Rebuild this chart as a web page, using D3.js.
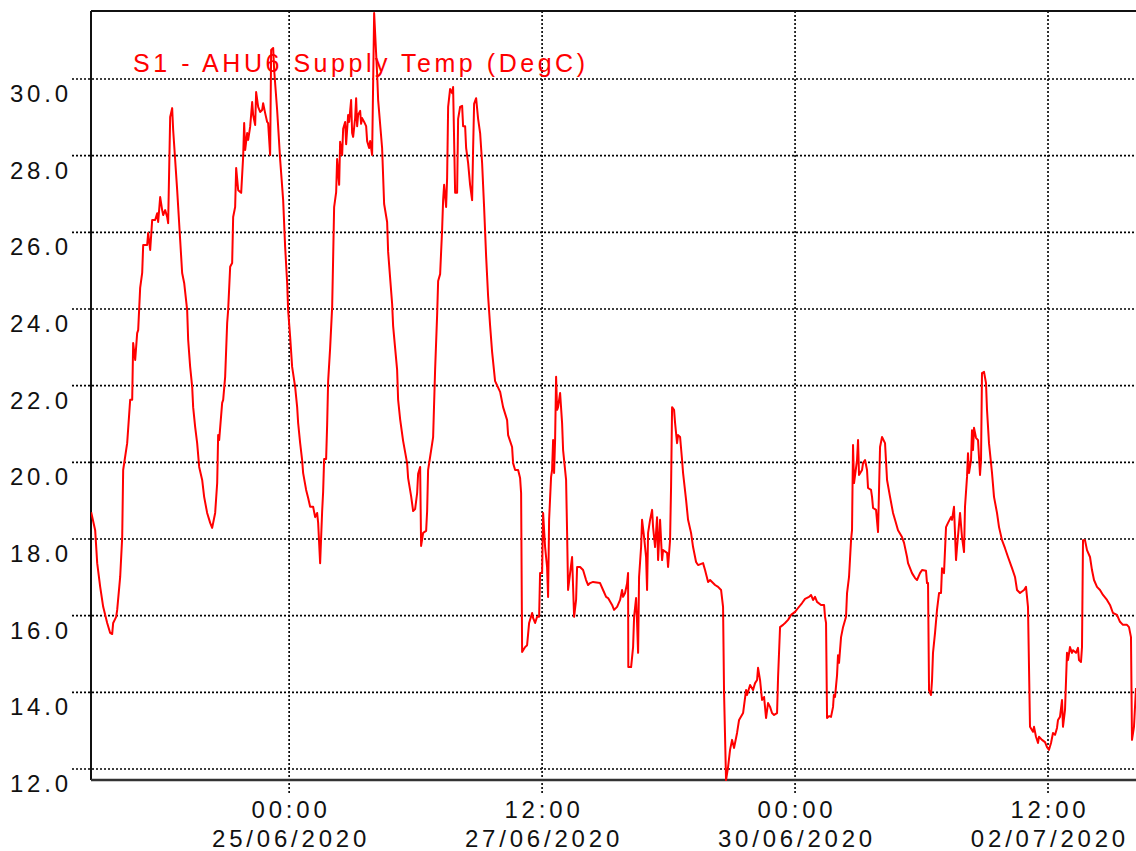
<!DOCTYPE html>
<html>
<head>
<meta charset="utf-8">
<script src="https://cdn.jsdelivr.net/npm/d3@7"></script>
<style>
body { margin: 0; background: #fff; }
text { font-family: "Liberation Sans", Arial, sans-serif; }
</style>
</head>
<body>
<svg id="chart" width="1136" height="851"></svg>
<script>
var seriesName = "S1 - AHU6 Supply Temp (DegC)";

// hours after 23/06/2020 00:00
var hours = [1.04,1.99,2.47,3.18,3.89,4.84,5.55,6.02,6.26,6.97,7.21,7.92,8.40,8.63,9.58,10.29,10.77,11.00,11.48,11.95,12.19,12.66,13.14,13.38,14.32,14.56,15.04,15.51,16.22,16.70,16.93,17.41,17.88,18.12,18.59,19.07,19.30,19.78,20.25,20.49,21.44,22.15,22.62,23.10,23.81,24.05,24.52,25.00,25.23,25.71,26.18,26.66,27.37,27.84,28.55,29.27,29.74,30.45,30.93,31.16,31.40,32.11,32.35,32.82,33.30,33.53,34.01,34.48,34.72,35.19,35.43,35.91,36.62,37.09,37.33,37.57,38.04,38.28,38.75,39.23,39.46,39.94,40.17,40.65,41.12,41.60,41.83,42.31,42.78,43.02,43.49,43.73,44.21,44.44,45.15,45.87,46.58,47.05,47.53,47.76,48.24,48.71,49.42,49.90,50.13,50.61,51.08,51.32,52.03,52.51,52.98,53.69,54.17,54.64,54.88,55.35,55.83,56.06,56.30,56.77,57.01,57.25,57.72,58.20,58.43,58.67,59.15,59.38,59.86,60.09,60.57,60.81,61.28,61.52,61.99,62.23,62.70,62.94,63.18,63.65,63.89,64.13,64.36,64.84,65.07,65.31,65.79,66.26,66.50,66.97,67.21,67.68,68.16,68.87,69.11,70.05,70.53,71.24,71.48,71.95,72.43,72.66,73.14,73.61,73.85,74.32,75.03,75.98,76.22,76.93,77.41,77.88,78.36,78.59,79.07,79.30,79.78,80.49,80.73,80.96,81.91,82.15,82.62,83.10,83.34,83.81,84.28,84.52,84.76,85.23,85.47,85.71,86.18,86.66,86.89,87.37,87.84,88.08,88.55,89.03,89.26,89.74,89.98,90.45,90.92,91.40,91.64,91.87,92.35,92.82,93.30,93.77,94.24,94.72,95.19,95.67,96.14,96.85,98.04,98.75,99.70,99.94,100.88,101.12,101.60,102.31,102.78,103.02,103.26,103.97,104.44,104.92,105.63,105.86,106.34,106.81,107.29,107.52,108.00,108.24,108.71,109.18,109.42,109.66,110.13,110.37,110.61,110.84,111.08,111.32,111.56,111.79,112.27,112.74,112.98,113.69,113.93,114.16,114.64,115.11,115.59,116.06,116.30,117.01,117.72,118.43,118.91,119.38,120.09,121.75,122.46,123.18,123.65,124.60,125.07,125.79,126.50,126.97,127.21,127.68,128.16,128.39,128.45,129.11,129.58,129.82,130.29,130.53,130.77,131.00,131.48,131.71,132.19,132.66,132.90,133.14,133.61,134.09,134.32,134.80,135.27,135.51,135.98,136.46,136.69,137.64,137.88,138.35,138.59,138.83,139.30,139.54,140.01,140.25,140.73,141.20,141.44,142.15,142.62,143.33,143.81,144.52,144.99,146.18,146.65,147.37,147.84,149.03,149.74,150.45,150.92,151.16,151.63,152.11,152.58,153.06,153.53,154.24,154.72,155.67,156.38,156.61,157.33,158.04,158.51,158.99,159.22,159.70,160.17,160.65,161.12,161.59,162.07,162.54,163.02,163.73,163.97,164.44,165.15,165.63,166.34,167.05,168.00,168.71,169.66,170.37,171.32,171.79,172.27,172.74,173.21,174.16,174.88,175.11,175.35,175.59,176.06,176.53,177.01,177.20,177.48,177.96,178.19,178.43,178.91,179.38,180.09,180.33,180.80,181.28,181.51,181.75,181.99,182.70,182.94,183.17,183.89,184.12,184.60,185.07,185.31,186.02,186.26,186.50,187.21,187.68,188.16,188.63,189.34,189.82,190.53,191.24,191.71,192.42,193.37,193.85,194.56,194.80,195.74,196.46,196.93,197.64,198.12,199.06,199.30,199.54,199.78,200.25,200.49,200.72,201.20,201.67,202.15,202.62,202.86,203.33,203.81,204.28,204.99,205.23,205.70,206.18,206.42,207.13,207.60,208.08,208.31,208.79,209.02,209.26,209.74,209.97,210.21,210.45,210.92,211.40,211.87,212.11,212.34,212.82,213.29,213.53,214.00,214.72,215.19,215.90,216.38,217.09,217.80,218.51,219.46,220.17,220.65,221.36,222.31,222.78,223.25,223.73,224.44,224.68,225.15,225.63,225.86,226.57,227.29,227.76,228.23,228.71,229.18,229.66,230.13,230.37,230.84,231.32,231.55,232.03,232.50,232.74,233.21,233.69,233.93,234.64,235.11,235.35,235.82,236.06,236.30,236.77,237.25,237.96,238.43,238.91,239.62,240.33,241.04,241.99,242.70,243.41,244.36,245.07,245.78,246.73,247.21,247.68,247.92,248.39,248.87];

var temps = [18.70,18.23,17.37,16.75,16.23,15.81,15.55,15.52,15.81,15.97,16.15,17.01,18.05,19.80,20.50,21.63,21.63,23.11,22.67,23.37,23.45,24.55,24.94,25.67,25.67,25.98,25.54,26.32,26.32,26.50,26.27,26.92,26.58,26.45,26.58,26.40,26.24,29.01,29.24,28.67,27.10,25.80,24.94,24.68,23.97,23.19,22.49,21.97,21.44,20.92,20.50,19.88,19.54,19.10,18.68,18.42,18.29,18.68,19.46,20.71,20.58,21.55,21.63,22.23,23.64,23.97,25.10,25.20,26.40,26.66,27.68,27.10,27.03,27.97,28.85,28.15,28.59,28.41,28.75,29.40,29.06,28.80,29.66,29.27,29.14,29.19,29.37,29.11,28.88,28.85,28.02,30.76,30.81,30.24,29.19,27.89,26.84,25.62,24.68,23.97,23.27,22.49,21.97,21.44,21.03,20.50,20.06,19.72,19.28,19.07,18.84,18.84,18.57,18.68,18.42,17.37,18.73,19.23,20.09,20.09,20.97,22.12,22.98,24.05,25.30,26.66,27.05,27.91,27.24,28.36,28.02,28.70,28.88,28.30,29.06,28.88,29.45,28.59,28.49,28.98,29.50,28.77,29.06,29.17,28.83,28.98,28.88,28.77,28.38,28.20,28.38,28.02,31.72,30.13,29.45,28.20,26.74,26.27,25.49,24.81,24.13,23.56,22.98,22.41,21.63,21.13,20.56,19.98,19.59,19.12,18.73,18.78,19.20,19.70,19.88,17.82,18.16,18.21,18.73,19.80,20.48,20.66,22.41,23.84,24.73,24.91,26.06,26.84,27.24,26.66,27.42,29.27,29.74,29.63,29.79,27.03,27.03,28.96,29.27,29.30,28.77,28.77,28.20,27.81,27.24,26.84,28.20,29.35,29.50,28.96,28.59,27.81,26.66,25.38,24.34,23.56,22.88,22.12,21.84,21.44,21.10,20.71,20.40,19.98,19.80,19.80,19.59,19.20,15.05,15.18,15.23,15.81,16.07,15.94,15.81,15.97,15.97,17.11,17.11,18.68,17.79,17.27,16.49,18.50,19.62,19.80,20.58,19.72,20.58,22.23,21.37,21.44,21.81,21.03,20.32,19.54,18.16,16.67,17.11,17.53,15.97,16.41,17.27,17.27,17.19,16.93,16.80,16.85,16.88,16.85,16.67,16.49,16.46,16.28,16.15,16.23,16.41,16.67,16.49,16.59,16.85,17.11,14.66,14.66,15.18,15.97,16.46,15.81,15.03,17.01,17.79,18.50,18.05,17.53,16.67,18.16,18.50,18.76,18.31,17.79,18.57,17.45,18.50,17.45,17.71,17.64,17.27,17.97,19.36,21.44,21.37,21.03,20.50,20.71,20.66,20.06,19.72,19.02,18.50,18.16,17.79,17.40,17.32,17.37,17.19,16.88,16.93,16.80,16.75,16.67,16.23,13.98,11.71,12.05,12.50,12.76,12.55,12.94,13.28,13.46,14.06,13.93,14.19,14.06,14.24,14.32,14.64,14.32,13.80,13.88,13.33,13.72,13.62,13.46,13.41,13.46,14.40,15.70,15.76,15.81,15.89,16.02,16.10,16.20,16.33,16.44,16.49,16.54,16.41,16.49,16.36,16.28,16.28,15.97,15.81,13.33,13.38,13.36,13.62,13.93,13.88,14.45,14.97,14.77,15.44,15.70,15.97,16.59,17.01,17.97,18.23,20.45,19.46,20.06,20.58,19.67,19.80,19.98,20.06,19.80,19.33,19.28,19.10,18.81,18.76,18.18,20.40,20.66,20.50,19.54,19.10,18.68,18.50,18.23,18.05,17.90,17.53,17.37,17.11,16.98,16.93,17.11,17.19,17.17,16.85,16.85,14.06,13.93,14.32,15.03,15.55,16.15,16.59,16.59,17.24,17.11,18.31,18.42,18.57,18.50,18.84,17.45,17.79,18.68,18.05,17.66,18.84,19.62,20.24,19.72,20.06,20.84,20.32,20.90,20.64,20.58,19.67,20.06,22.33,22.36,22.07,21.37,20.50,19.72,19.10,18.68,18.31,17.97,17.76,17.53,17.24,17.01,16.67,16.59,16.67,16.75,16.23,13.10,12.97,13.10,12.84,12.68,12.84,12.76,12.70,12.57,12.50,12.68,12.94,12.89,13.07,13.28,13.36,13.80,13.10,13.54,15.03,14.84,15.18,15.03,15.10,15.03,15.16,14.84,14.79,15.18,17.97,17.97,17.71,17.53,17.19,16.93,16.75,16.67,16.54,16.41,16.28,16.07,16.02,15.84,15.76,15.76,15.70,15.44,12.76,13.10,14.11];

var yTicks = [12, 14, 16, 18, 20, 22, 24, 26, 28, 30];
var xTicks = ["2020-06-25 00:00", "2020-06-27 12:00", "2020-06-30 00:00", "2020-07-02 12:00"];
var xStartHour = 1.0, xEndHour = 248.87;

var svg = d3.select("#chart"),
	plotLeft = 91,
	plotRight = 1136,
	plotTop = 11,
	plotBottom = 780,
	ls = 3.8;

var t0 = new Date(2020, 5, 23);
function toDate(h) {
	return new Date(t0.getTime() + h * 3600000);
}
var parseTick = d3.timeParse("%Y-%m-%d %H:%M");

var data = hours.map(function (h, i) {
	return { t: toDate(h), v: temps[i] };
});

var x = d3.scaleTime()
	.domain([toDate(xStartHour), toDate(xEndHour)])
	.range([plotLeft, plotRight]);
var y = d3.scaleLinear()
	.domain([12, 30])
	.range([769, 79]);

svg.append("rect").attr("width", 1136).attr("height", 851).attr("fill", "#fff");

// grid
svg.selectAll(".hgrid")
	.data(yTicks)
	.enter().append("line")
	.attr("x1", 72).attr("x2", plotRight)
	.attr("y1", function (d) { return y(d); })
	.attr("y2", function (d) { return y(d); })
	.attr("stroke", "#000")
	.attr("stroke-width", 1.6)
	.attr("stroke-dasharray", "2,2");

svg.selectAll(".vgrid")
	.data(xTicks.map(parseTick))
	.enter().append("line")
	.attr("x1", function (d) { return x(d); })
	.attr("x2", function (d) { return x(d); })
	.attr("y1", plotTop).attr("y2", 795)
	.attr("stroke", "#000")
	.attr("stroke-width", 1.6)
	.attr("stroke-dasharray", "2,2");

// frame
svg.append("line").attr("x1", plotLeft).attr("x2", plotRight).attr("y1", plotTop).attr("y2", plotTop)
	.attr("stroke", "#111").attr("stroke-width", 2);
svg.append("line").attr("x1", plotLeft).attr("x2", plotLeft).attr("y1", plotTop).attr("y2", plotBottom)
	.attr("stroke", "#111").attr("stroke-width", 2);
svg.append("line").attr("x1", plotLeft).attr("x2", plotRight).attr("y1", plotBottom).attr("y2", plotBottom)
	.attr("stroke", "#333").attr("stroke-width", 2.5);

// y labels
svg.selectAll(".ylab")
	.data(yTicks)
	.enter().append("text")
	.attr("x", 68 + ls)
	.attr("y", function (d) { return y(d) + 23; })
	.attr("text-anchor", "end")
	.style("font-size", "24px")
	.style("letter-spacing", ls + "px")
	.attr("fill", "#111")
	.text(d3.format(".1f"));

// x labels
var xl = svg.selectAll(".xlab")
	.data(xTicks.map(parseTick))
	.enter().append("g")
	.attr("transform", function (d) { return "translate(" + (x(d) + ls / 2) + ",0)"; });
xl.append("text")
	.attr("y", 818)
	.attr("text-anchor", "middle")
	.style("font-size", "24px")
	.style("letter-spacing", ls + "px")
	.attr("fill", "#111")
	.text(d3.timeFormat("%H:%M"));
xl.append("text")
	.attr("y", 847)
	.attr("text-anchor", "middle")
	.style("font-size", "24px")
	.style("letter-spacing", ls + "px")
	.attr("fill", "#111")
	.text(d3.timeFormat("%d/%m/%Y"));

// series
svg.append("clipPath").attr("id", "clip")
	.append("rect")
	.attr("x", plotLeft).attr("y", plotTop)
	.attr("width", plotRight - plotLeft).attr("height", plotBottom - plotTop + 1);

var line = d3.line()
	.x(function (d) { return x(d.t); })
	.y(function (d) { return y(d.v); });

svg.append("path")
	.datum(data)
	.attr("clip-path", "url(#clip)")
	.attr("fill", "none")
	.attr("stroke", "#ff0000")
	.attr("stroke-width", 2)
	.attr("stroke-linejoin", "round")
	.attr("d", line);

svg.append("text")
	.attr("x", 133)
	.attr("y", 72)
	.attr("fill", "#ff0000")
	.attr("textLength", 452)
	.attr("lengthAdjust", "spacing")
	.style("font-size", "25px")
	.text(seriesName);
</script>
</body>
</html>
